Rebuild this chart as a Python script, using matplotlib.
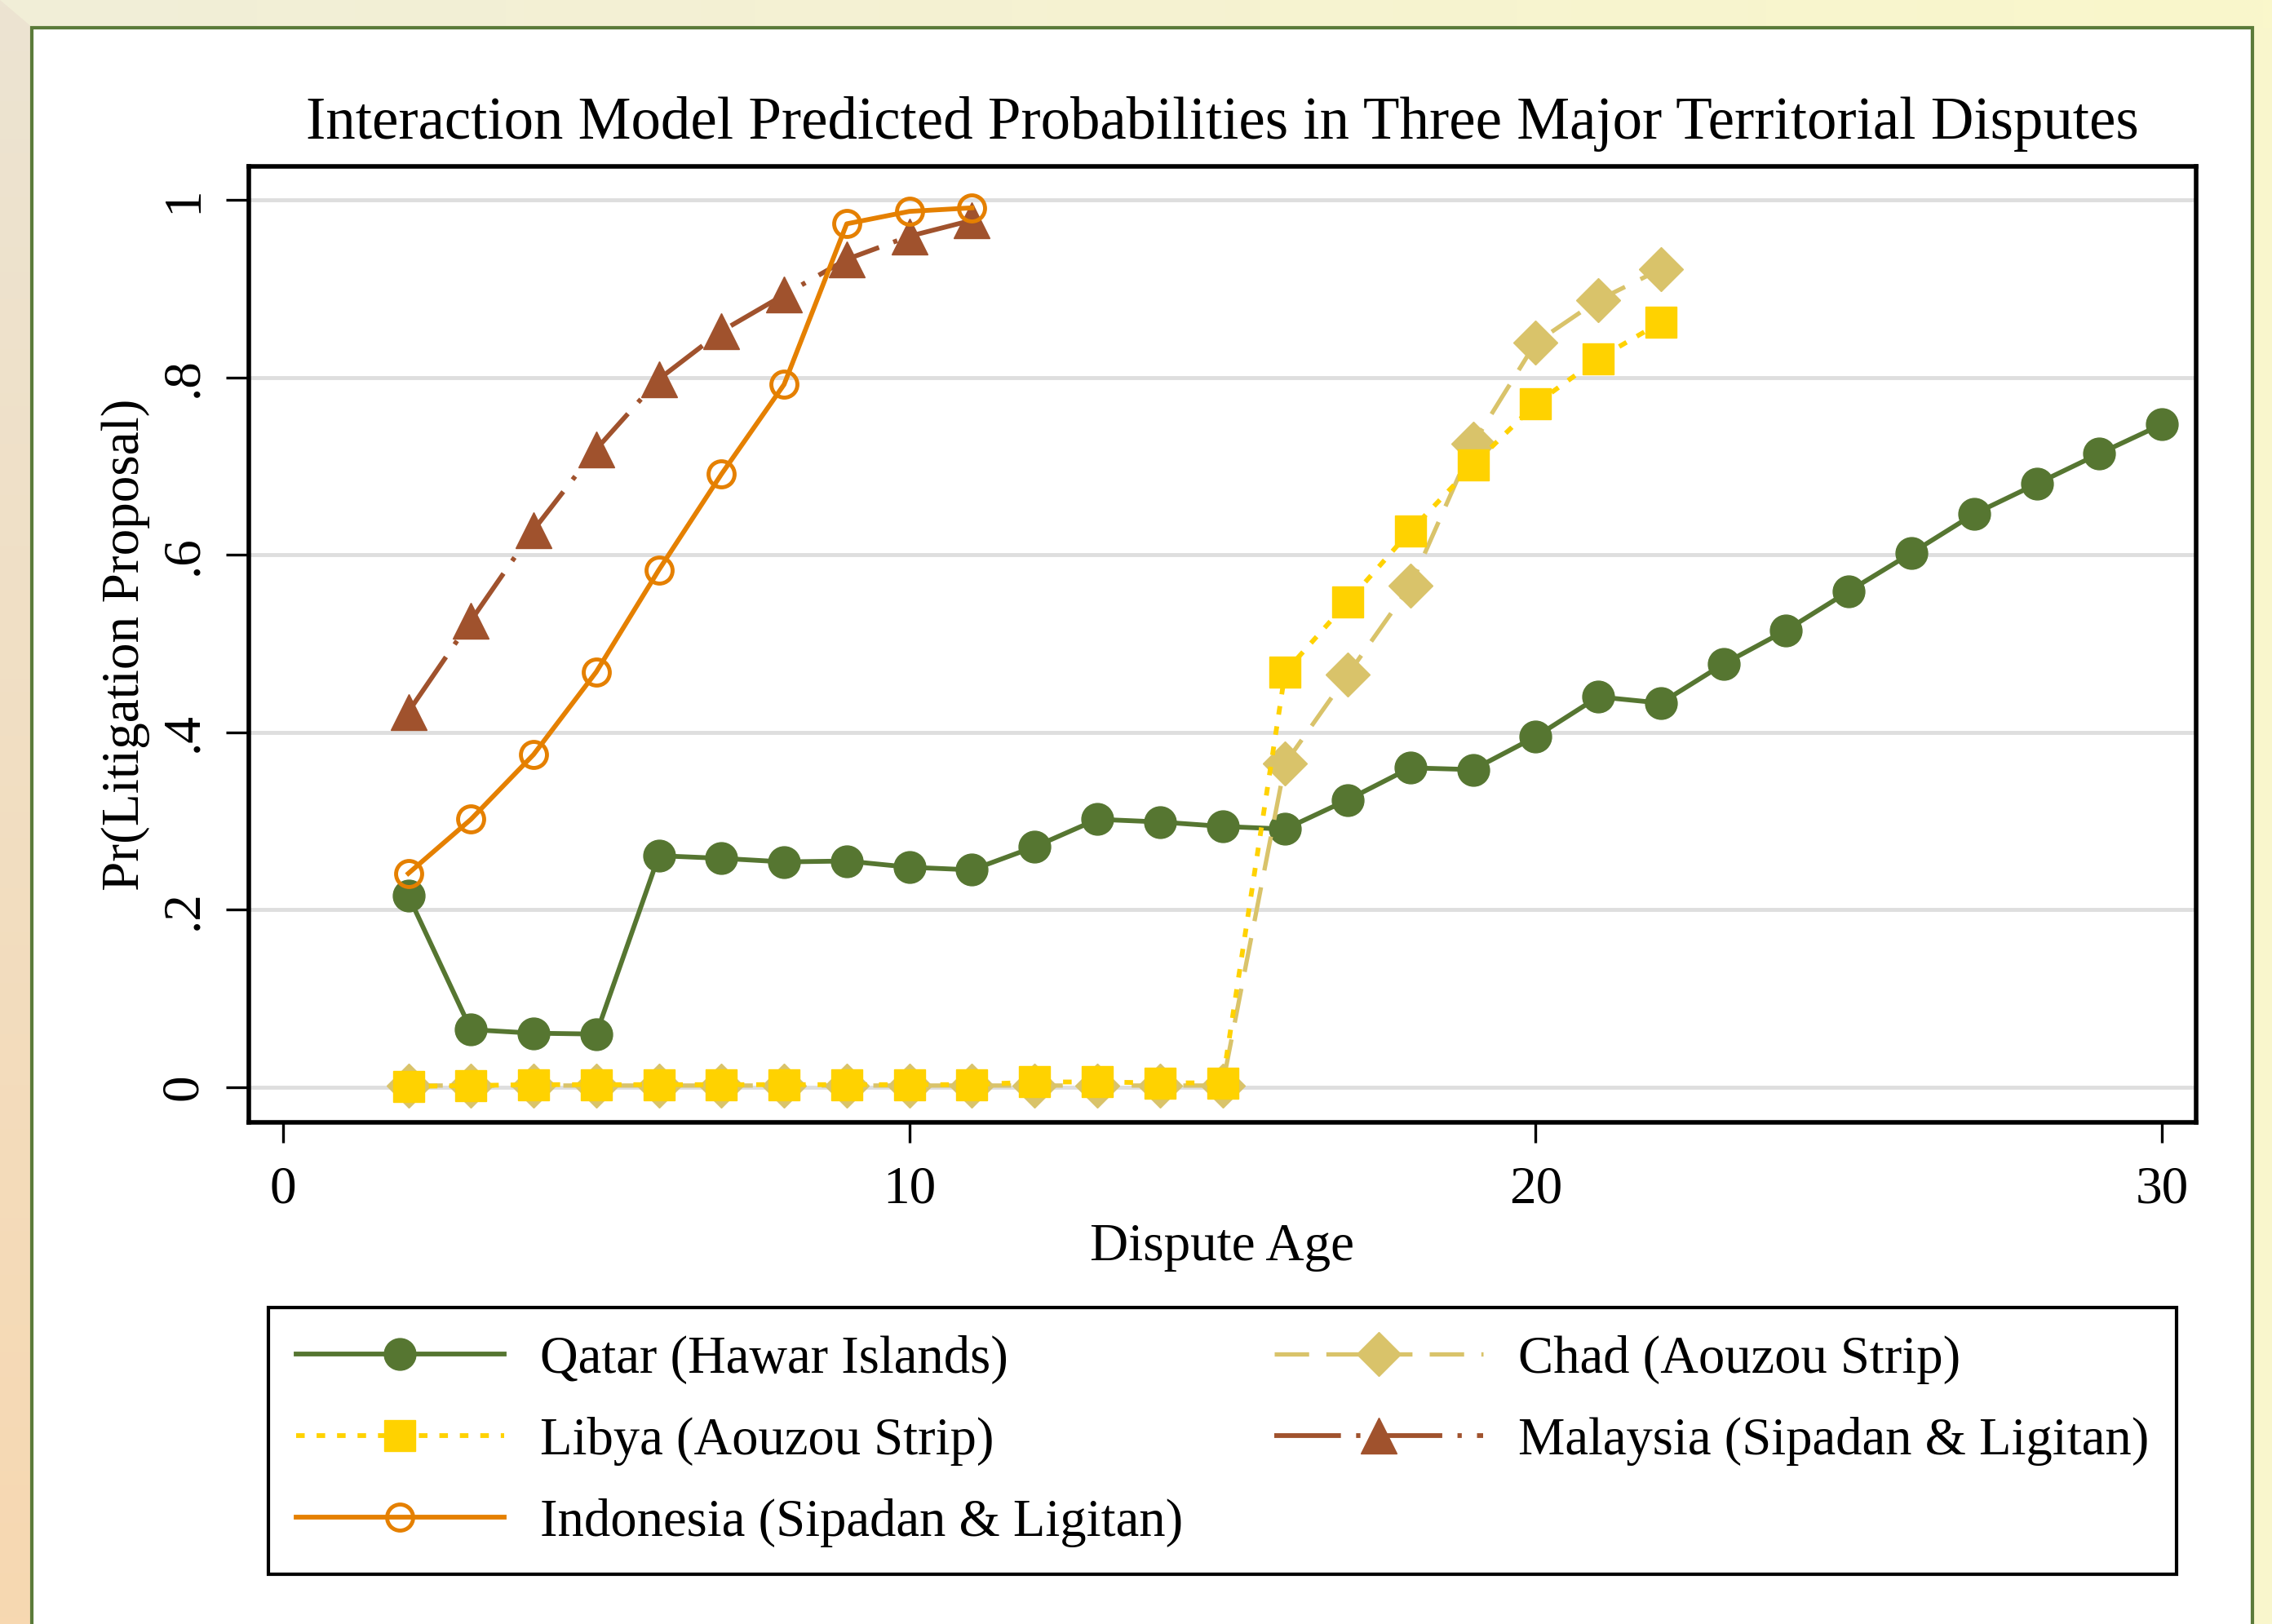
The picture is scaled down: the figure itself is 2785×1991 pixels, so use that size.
import numpy as np
import matplotlib.pyplot as plt
from matplotlib.patches import Rectangle, Polygon
from matplotlib.colors import to_rgb

plt.rcParams['font.family'] = ['Liberation Serif', 'DejaVu Serif']

# data
ages_qatar = list(range(2, 31))
qatar = [0.216, 0.065, 0.061, 0.060, 0.261, 0.258, 0.254, 0.255, 0.248, 0.245,
         0.271, 0.302, 0.299, 0.294, 0.291, 0.324, 0.360, 0.358, 0.395, 0.440,
         0.433, 0.477, 0.515, 0.559, 0.602, 0.646, 0.680, 0.714, 0.747]

ages_aouzou = list(range(2, 23))
libya = [0.001, 0.002, 0.003, 0.003, 0.003, 0.003, 0.003, 0.003, 0.003, 0.003,
         0.006, 0.006, 0.005, 0.005, 0.468, 0.547, 0.627, 0.701, 0.770, 0.821, 0.862]
chad = [0.002, 0.002, 0.002, 0.002, 0.002, 0.002, 0.002, 0.002, 0.002, 0.002,
        0.002, 0.002, 0.002, 0.002, 0.365, 0.465, 0.565, 0.725, 0.839, 0.887, 0.922]

ages_sipadan = list(range(2, 12))
indonesia = [0.241, 0.302, 0.375, 0.468, 0.583, 0.691, 0.792, 0.973, 0.987, 0.991]
malaysia = [0.423, 0.526, 0.628, 0.719, 0.798, 0.852, 0.893, 0.933, 0.959, 0.977]

yticks = [0, 0.2, 0.4, 0.6, 0.8, 1]
ytick_labels = ['0', '.2', '.4', '.6', '.8', '1']
xticks = [0, 10, 20, 30]

green = '#567631'
gold = '#ffd200'
khaki = '#d9c36a'
sienna = '#a0522d'
orange = '#e58000'

W, H = 2785, 1991
fig = plt.figure(figsize=(W / 100, H / 100), dpi=100, facecolor='#f9f6cc')

# background frame
bg = fig.add_axes([0, 0, 1, 1], zorder=-10)
t = np.linspace(0, 1, 256)
c0, c1 = np.array(to_rgb('#f1eed8')), np.array(to_rgb('#faf7cb'))
top = (c0[None, :] * (1 - t[:, None]) + c1[None, :] * t[:, None])[None, :, :]
bg.imshow(top, extent=(0, W, 34, 0), aspect='auto')
c0, c1 = np.array(to_rgb('#ece4d2')), np.array(to_rgb('#f7d8b1'))
left = (c0[None, :] * (1 - t[:, None]) + c1[None, :] * t[:, None])[:, None, :]
im = bg.imshow(left, extent=(0, 40, H, 0), aspect='auto')
im.set_clip_path(Polygon([(0, 0), (40, 34), (40, H), (0, H)], transform=bg.transData))
bg.add_patch(Rectangle((39, 34), 2722, H, fc='white', ec='#5b7b3a', lw=3))
bg.set_xlim(0, W)
bg.set_ylim(H, 0)
bg.axis('off')

ax = fig.add_axes([305 / W, 1 - 1376 / H, (2692 - 305) / W, (1376 - 204) / H])
ax.set_facecolor('white')

l_qatar, = ax.plot(ages_qatar, qatar, color=green, lw=4.2, marker='o', ms=28,
                   mec=green, zorder=3, label='Qatar (Hawar Islands)')
l_mal, = ax.plot(ages_sipadan, malaysia, color=sienna, lw=4.2, marker='^', ms=32,
                 mec=sienna, dashes=(14, 3.2, 0.9, 3.2), zorder=4,
                 label='Malaysia (Sipadan & Ligitan)')
l_ind, = ax.plot(ages_sipadan, indonesia, color=orange, lw=4.2, marker='o', ms=23,
                 mfc='none', mec=orange, mew=3.5, zorder=5,
                 label='Indonesia (Sipadan & Ligitan)')
l_chad, = ax.plot(ages_aouzou, chad, color=khaki, lw=3.8, marker='D', ms=27,
                  mec=khaki, dashes=(8, 4), zorder=6, label='Chad (Aouzou Strip)')
l_libya, = ax.plot(ages_aouzou, libya, color=gold, lw=4.2, marker='s', ms=27,
                   mec=gold, dashes=(1.8, 2.5), zorder=7, label='Libya (Aouzou Strip)')

ax.set_xlim(-0.547, 30.546)
ax.set_ylim(-0.0395, 1.0377)
ax.set_xticks(xticks)
ax.set_yticks(yticks)
ax.set_yticklabels(ytick_labels, rotation=90, va='center')
ax.grid(axis='y', color='#dedede', lw=3.5)
ax.set_axisbelow(True)
for s in ax.spines.values():
    s.set_linewidth(4)
ax.tick_params(axis='x', length=18, width=2.4, pad=20, labelsize=47)
ax.tick_params(axis='y', length=20, width=2.4, pad=16, labelsize=47)

ax.set_title('Interaction Model Predicted Probabilities in Three Major Territorial Disputes',
             fontsize=52.5, pad=24.5)
ax.set_xlabel('Dispute Age', fontsize=47, labelpad=8)
ax.set_ylabel('Pr(Litigation Proposal)', fontsize=47, labelpad=8)

handles = [l_qatar, l_libya, l_ind, l_chad, l_mal]
leg = fig.legend(handles, [h.get_label() for h in handles], loc='upper left',
                 bbox_to_anchor=(329 / W, 1 - 1920 / H, 2339 / W, (1920 - 1603) / H),
                 mode='expand', ncol=2, fontsize=46.5, handlelength=3.96,
                 handletextpad=0.67, borderpad=0.52, labelspacing=0.62,
                 fancybox=False, edgecolor='black', borderaxespad=0, numpoints=1,
                 framealpha=1)
leg.get_frame().set_linewidth(3)

fig.savefig('out.png', dpi=100, facecolor=fig.get_facecolor())
